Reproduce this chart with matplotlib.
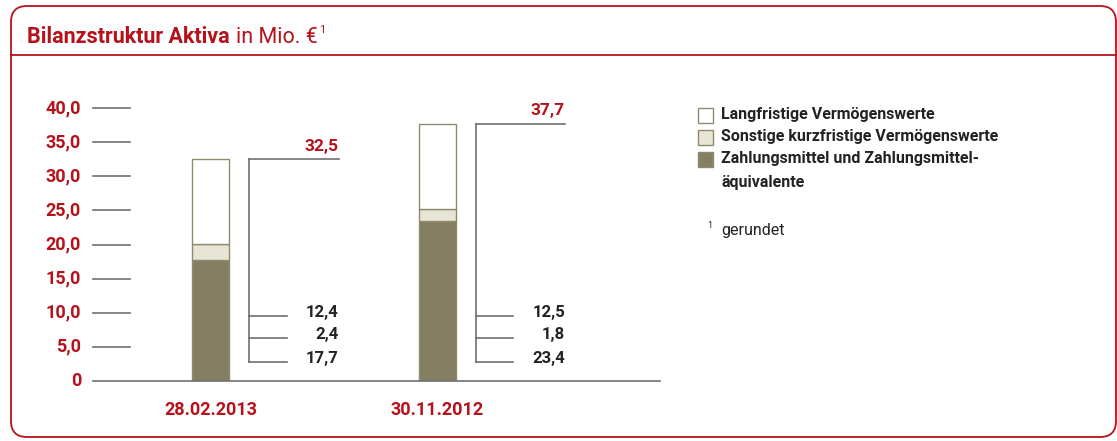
import matplotlib.pyplot as plt
from matplotlib.patches import FancyBboxPatch

# data
dates = ["28.02.2013", "30.11.2012"]
zahlungsmittel = [17.7, 23.4]
sonstige = [2.4, 1.8]
langfristig = [12.4, 12.5]
totals = ["32,5", "37,7"]
yticks = [0, 5, 10, 15, 20, 25, 30, 35, 40]
ytick_labels = ["0", "5,0", "10,0", "15,0", "20,0", "25,0", "30,0", "35,0", "40,0"]
legend_labels = ["Langfristige Vermögenswerte", "Sonstige kurzfristige Vermögenswerte",
                 "Zahlungsmittel und Zahlungsmittel-\näquivalente"]

RED = "#b5121b"
DARK = "#847f62"
LIGHT = "#e7e5d5"
EDGE = "#8f8a6e"
GRAY = "#6f6f6f"
TXT = "#222222"

plt.rcParams["font.family"] = ["Roboto", "DejaVu Sans"]

W, H = 1117, 441
fig = plt.figure(figsize=(W / 100, H / 100), dpi=100)

# overlay in pixel coords for frame, title, legend
ov = fig.add_axes([0, 0, 1, 1])
ov.set_xlim(0, W)
ov.set_ylim(H, 0)
ov.axis("off")

frame = FancyBboxPatch((11, 6), 1105, 431, boxstyle="round,pad=0,rounding_size=16",
                       facecolor="none", edgecolor=RED, linewidth=1.3)
ov.add_patch(frame)
ov.plot([11, 1117], [55, 55], color=RED, linewidth=1.3)

t1 = ov.text(27, 43, "Bilanzstruktur Aktiva", color=RED, fontsize=15.5, fontweight="bold",
             va="baseline", ha="left")
fig.canvas.draw()
x2 = ov.transData.inverted().transform((t1.get_window_extent().x1, 0))[0] + 6
t2 = ov.text(x2, 43, "in Mio. €", color=RED, fontsize=15.5, va="baseline", ha="left")
fig.canvas.draw()
x3 = ov.transData.inverted().transform((t2.get_window_extent().x1, 0))[0] + 2
ov.text(x3, 33, "1", color=RED, fontsize=8, va="baseline", ha="left")

# legend
leg_colors = ["white", LIGHT, DARK]
leg_y = [115, 137, 159]
for c, y, lab in zip(leg_colors, leg_y, legend_labels):
    ov.add_patch(plt.Rectangle((698, y - 7), 15, 15, facecolor=c, edgecolor=EDGE, linewidth=1))
    for i, ln in enumerate(lab.split("\n")):
        ov.text(721, y + i * 24, ln, color=TXT, fontsize=11.5, fontweight="bold", va="center", ha="left")
ov.text(707, 226, "1", color=TXT, fontsize=6.5, va="center", ha="left")
ov.text(721, 230, "gerundet", color=TXT, fontsize=11.5, va="center", ha="left")

# chart axes
x_left, x_right = 93, 660
y_bot, y_top = 381, 108
c0, c1 = 210.5, 437.0
unit = c1 - c0
xmin = -(c0 - x_left) / unit
xmax = 1 + (x_right - c1) / unit
ax = fig.add_axes([x_left / W, (H - y_bot) / H, (x_right - x_left) / W, (y_bot - y_top) / H])
ax.set_xlim(xmin, xmax)
ax.set_ylim(0, 40)
ax.axis("off")

xs = [0, 1]
bw = 37 / unit
bottom2 = [a + b for a, b in zip(zahlungsmittel, sonstige)]
ax.bar(xs, zahlungsmittel, width=bw, color=DARK, edgecolor=EDGE, linewidth=1)
ax.bar(xs, sonstige, width=bw, bottom=zahlungsmittel, color=LIGHT, edgecolor=EDGE, linewidth=1)
ax.bar(xs, langfristig, width=bw, bottom=bottom2, color="white", edgecolor=EDGE, linewidth=1)

# y ticks as short lines
tick_end = xmin + (130 - x_left) / unit
for v, lab in zip(yticks, ytick_labels):
    ax.plot([xmin, tick_end if v else xmax], [v, v], color=GRAY, linewidth=1.2, clip_on=False)
    ax.text(xmin - 12 / unit, v, lab, color=RED, fontsize=13, fontweight="bold",
            ha="right", va="center")

for x, d in zip(xs, dates):
    ax.text(x, -4.2, d, color=RED, fontsize=13, fontweight="bold", ha="center", va="center")

# brackets with values
off_v = 38.5 / unit
off_top = 128 / unit
off_short = 76 / unit
ann_y = [9.5, 6.3, 2.8]
for x, z, s, l, tot in zip(xs, zahlungsmittel, sonstige, langfristig, totals):
    total = z + s + l
    vx = x + off_v
    ax.plot([vx, vx], [ann_y[-1], total], color=GRAY, linewidth=1.2, clip_on=False)
    ax.plot([vx, x + off_top], [total, total], color=GRAY, linewidth=1.2, clip_on=False)
    ax.text(x + off_top, total + 1.9, tot, color=RED, fontsize=12.5, fontweight="bold",
            ha="right", va="center")
    for yy, val in zip(ann_y, [l, s, z]):
        ax.plot([vx, x + off_short], [yy, yy], color=GRAY, linewidth=1.2, clip_on=False)
        ax.text(x + off_top, yy + 0.55, f"{val:.1f}".replace(".", ","), color=TXT, fontsize=12,
                fontweight="bold", ha="right", va="center")

fig.savefig("out.png", dpi=100)
